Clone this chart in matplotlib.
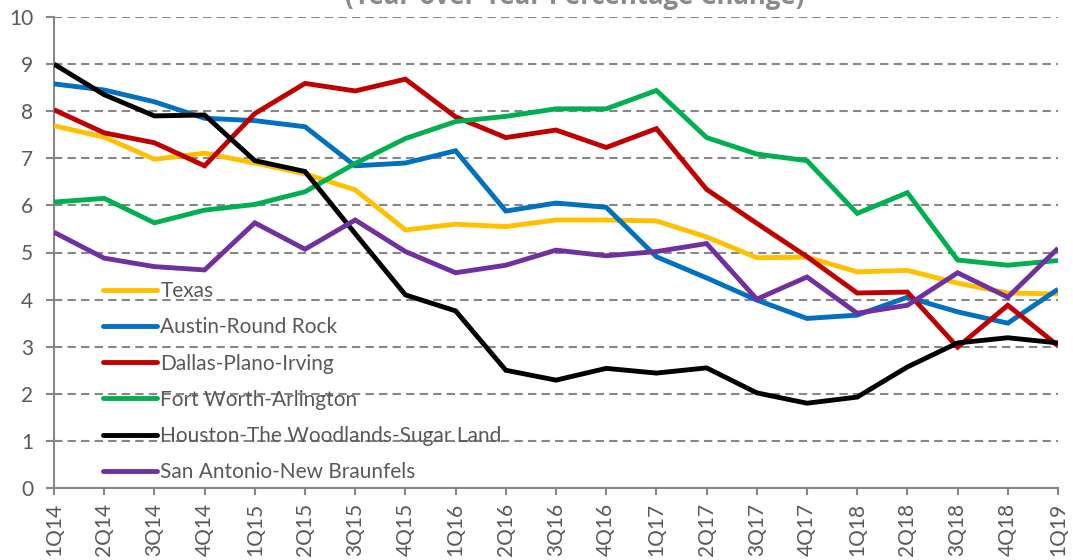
import matplotlib
matplotlib.use("Agg")
import matplotlib.pyplot as plt

quarters = ["1Q14", "2Q14", "3Q14", "4Q14", "1Q15", "2Q15", "3Q15", "4Q15",
            "1Q16", "2Q16", "3Q16", "4Q16", "1Q17", "2Q17", "3Q17", "4Q17",
            "1Q18", "2Q18", "3Q18", "4Q18", "1Q19"]

texas = [7.69, 7.45, 6.98, 7.11, 6.90, 6.67, 6.33, 5.48, 5.60, 5.55, 5.69,
         5.69, 5.67, 5.33, 4.89, 4.90, 4.59, 4.62, 4.35, 4.14, 4.12]
austin = [8.58, 8.45, 8.20, 7.85, 7.80, 7.67, 6.84, 6.90, 7.16, 5.88, 6.05,
          5.96, 4.91, 4.46, 3.99, 3.60, 3.67, 4.05, 3.74, 3.50, 4.22]
dallas = [8.03, 7.54, 7.33, 6.84, 7.95, 8.59, 8.43, 8.68, 7.88, 7.44, 7.60,
          7.23, 7.63, 6.34, 5.62, 4.91, 4.14, 4.16, 2.99, 3.88, 3.02]
fort_worth = [6.07, 6.15, 5.63, 5.90, 6.02, 6.29, 6.89, 7.42, 7.78, 7.89, 8.05,
              8.05, 8.44, 7.44, 7.09, 6.95, 5.83, 6.27, 4.84, 4.73, 4.83]
houston = [9.00, 8.35, 7.90, 7.92, 6.95, 6.72, 5.40, 4.10, 3.76, 2.50, 2.29,
           2.54, 2.44, 2.55, 2.02, 1.80, 1.93, 2.57, 3.08, 3.19, 3.08]
san_antonio = [5.43, 4.88, 4.70, 4.63, 5.63, 5.07, 5.69, 5.02, 4.57, 4.73, 5.05,
               4.93, 5.02, 5.19, 4.01, 4.48, 3.71, 3.88, 4.57, 4.05, 5.09]

series_names = ["Texas", "Austin-Round Rock", "Dallas-Plano-Irving",
                "Fort Worth-Arlington", "Houston-The Woodlands-Sugar Land",
                "San Antonio-New Braunfels"]
series_values = [texas, austin, dallas, fort_worth, houston, san_antonio]
colors = ["#FFC000", "#0070C0", "#C00000", "#00B050", "#000000", "#7030A0"]

plt.rcParams['font.family'] = ['Lato', 'DejaVu Sans']
gray = "#595959"
axis_gray = "#878787"

W, H = 1073, 560
fig = plt.figure(figsize=(W / 100, H / 100), dpi=100)
ax = fig.add_axes([54 / W, 1 - 488 / H, (1058 - 54) / W, (488 - 17) / H])

x = list(range(len(quarters)))
for name, vals, c in zip(series_names, series_values, colors):
    ax.plot(x, vals, color=c, lw=3.5, label=name, solid_joinstyle='miter',
            solid_capstyle='butt', zorder=3)

ax.set_xlim(0, len(quarters) - 1)
ax.set_ylim(0, 10)
ax.set_yticks(range(0, 11))
ax.set_xticks(x)
ax.set_xticklabels(quarters, rotation=90)

ax.grid(axis='y', color=axis_gray, lw=1.5, linestyle=(0, (4, 2.5)), zorder=1)
ax.set_axisbelow(True)
for s in ['top', 'right']:
    ax.spines[s].set_visible(False)
for s in ['left', 'bottom']:
    ax.spines[s].set_color(axis_gray)
    ax.spines[s].set_linewidth(1.5)

ax.tick_params(axis='y', length=6, width=1.5, color=axis_gray, pad=9,
               labelsize=15, labelcolor=gray)
ax.tick_params(axis='x', length=5, width=1.5, color=axis_gray, pad=6,
               labelsize=15, labelcolor=gray)

leg = ax.legend(loc='upper left', bbox_to_anchor=(103 / W, 1 - 281 / H),
                bbox_transform=fig.transFigure, frameon=False, fontsize=15,
                handlelength=2.6, handletextpad=0.15, labelspacing=0.78,
                borderpad=0, borderaxespad=0)
for t in leg.get_texts():
    t.set_color(gray)
for l in leg.get_lines():
    l.set_linewidth(3.5)
    l.set_solid_capstyle('round')

fig.text(575 / W, 1 - 4 / H, "(Year-over-Year Percentage Change)", ha='center',
         va='baseline', fontsize=18.5, fontweight='bold', color="#8a8a8a",
         family=['Open Sans', 'DejaVu Sans'])

fig.savefig("out.png", dpi=100)
